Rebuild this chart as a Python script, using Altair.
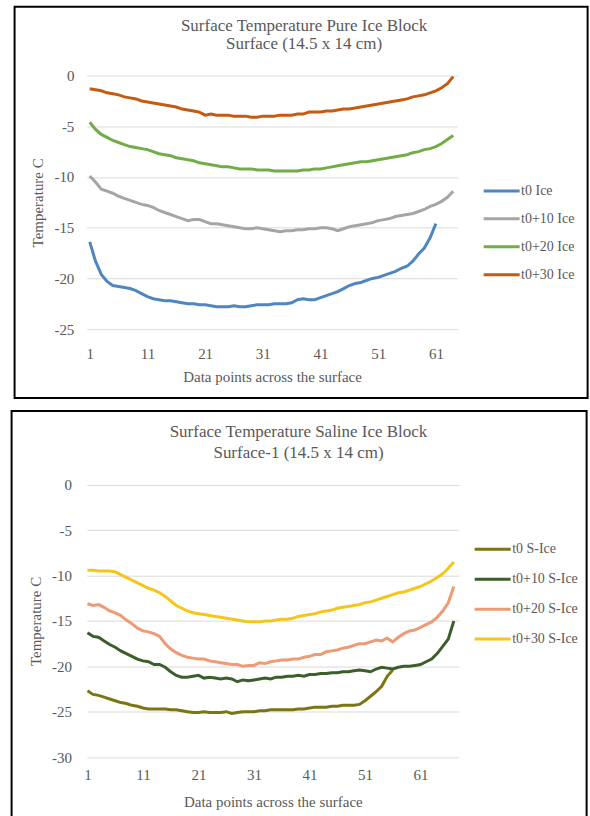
import altair as alt
import pandas as pd

# ---------------- text ----------------
top_title = ["Surface Temperature Pure Ice Block", "Surface (14.5 x 14 cm)"]
bot_title = ["Surface Temperature Saline Ice Block", "Surface-1 (14.5 x 14 cm)"]
x_title = "Data points across the surface"
y_title = "Temperature C"
x_ticks = [1, 11, 21, 31, 41, 51, 61]
top_y_ticks = [0, -5, -10, -15, -20, -25]
bot_y_ticks = [0, -5, -10, -15, -20, -25, -30]

# ---------------- pure ice block ----------------
top_names = ["t0 Ice", "t0+10 Ice", "t0+20 Ice", "t0+30 Ice"]
top_colors = ["#4F86C0", "#A5A5A5", "#70AD47", "#C55A11"]

t0_ice = [-16.4, -18.3, -19.6, -20.3, -20.7, -20.8, -20.9, -21.0, -21.2, -21.5,
          -21.8, -22.0, -22.1, -22.2, -22.2, -22.3, -22.4, -22.5, -22.5, -22.6,
          -22.6, -22.7, -22.8, -22.8, -22.8, -22.7, -22.8, -22.8, -22.7, -22.6,
          -22.6, -22.6, -22.5, -22.5, -22.5, -22.4, -22.1, -22.0, -22.1, -22.1,
          -21.9, -21.7, -21.5, -21.3, -21.0, -20.7, -20.5, -20.4, -20.2, -20.0,
          -19.9, -19.7, -19.5, -19.3, -19.0, -18.8, -18.3, -17.6, -17.0, -16.0,
          -14.6]
t10_ice = [-9.9, -10.5, -11.2, -11.4, -11.6, -11.9, -12.1, -12.3, -12.5, -12.7,
           -12.8, -13.0, -13.3, -13.5, -13.7, -13.9, -14.1, -14.3, -14.2, -14.2,
           -14.4, -14.6, -14.6, -14.7, -14.8, -14.9, -15.0, -15.1, -15.1, -15.0,
           -15.1, -15.2, -15.3, -15.4, -15.3, -15.3, -15.2, -15.2, -15.1, -15.1,
           -15.0, -15.0, -15.1, -15.3, -15.1, -14.9, -14.8, -14.7, -14.6, -14.5,
           -14.3, -14.2, -14.1, -13.9, -13.8, -13.7, -13.6, -13.4, -13.2, -12.9,
           -12.7, -12.4, -12.0, -11.4]
t20_ice = [-4.6, -5.3, -5.8, -6.1, -6.4, -6.6, -6.8, -7.0, -7.1, -7.2,
           -7.3, -7.5, -7.7, -7.8, -7.9, -8.1, -8.2, -8.3, -8.4, -8.6,
           -8.7, -8.8, -8.9, -9.0, -9.0, -9.1, -9.2, -9.2, -9.2, -9.3,
           -9.3, -9.3, -9.4, -9.4, -9.4, -9.4, -9.4, -9.3, -9.3, -9.2,
           -9.2, -9.1, -9.0, -8.9, -8.8, -8.7, -8.6, -8.5, -8.5, -8.4,
           -8.3, -8.2, -8.1, -8.0, -7.9, -7.8, -7.6, -7.5, -7.3, -7.2,
           -7.0, -6.7, -6.3, -5.9]
t30_ice = [-1.3, -1.4, -1.5, -1.7, -1.8, -1.9, -2.1, -2.2, -2.3, -2.5,
           -2.6, -2.7, -2.8, -2.9, -3.0, -3.1, -3.3, -3.4, -3.5, -3.6,
           -3.9, -3.8, -3.9, -3.9, -3.9, -4.0, -4.0, -4.0, -4.1, -4.1,
           -4.0, -4.0, -4.0, -3.9, -3.9, -3.9, -3.8, -3.8, -3.6, -3.6,
           -3.6, -3.5, -3.5, -3.4, -3.3, -3.3, -3.2, -3.1, -3.0, -2.9,
           -2.8, -2.7, -2.6, -2.5, -2.4, -2.3, -2.1, -2.0, -1.9, -1.7,
           -1.5, -1.2, -0.8, -0.1]

# ---------------- saline ice block ----------------
bot_names = ["t0 S-Ice", "t0+10 S-Ice", "t0+20 S-Ice", "t0+30 S-Ice"]
bot_colors = ["#7A7612", "#3B5E2B", "#EE9A74", "#F5C518"]

t0_sice = [-22.7, -23.1, -23.2, -23.4, -23.6, -23.8, -24.0, -24.1, -24.3, -24.4,
           -24.6, -24.7, -24.7, -24.7, -24.7, -24.8, -24.8, -24.9, -25.0, -25.1,
           -25.1, -25.0, -25.1, -25.1, -25.1, -25.0, -25.2, -25.1, -25.0, -25.0,
           -25.0, -24.9, -24.9, -24.8, -24.8, -24.8, -24.8, -24.8, -24.7, -24.7,
           -24.6, -24.5, -24.5, -24.5, -24.4, -24.4, -24.3, -24.3, -24.3, -24.2,
           -23.8, -23.3, -22.8, -22.2, -21.1, -20.4]
t10_sice = [-16.3, -16.7, -16.8, -17.2, -17.6, -17.9, -18.3, -18.6, -18.9, -19.2,
            -19.4, -19.5, -19.8, -19.8, -20.1, -20.6, -21.0, -21.2, -21.2, -21.1,
            -21.0, -21.3, -21.2, -21.3, -21.4, -21.3, -21.4, -21.7, -21.5, -21.6,
            -21.5, -21.4, -21.3, -21.4, -21.2, -21.2, -21.1, -21.1, -21.0, -21.1,
            -20.9, -20.9, -20.8, -20.8, -20.7, -20.7, -20.6, -20.6, -20.5, -20.4,
            -20.5, -20.6, -20.3, -20.1, -20.2, -20.3, -20.1, -20.0, -20.0, -19.9,
            -19.8, -19.5, -19.2, -18.6, -17.8, -17.0, -15.0]
t20_sice = [-13.1, -13.3, -13.2, -13.5, -13.9, -14.1, -14.4, -14.9, -15.3, -15.8,
            -16.1, -16.2, -16.4, -16.7, -17.5, -18.1, -18.5, -18.8, -19.0, -19.1,
            -19.2, -19.2, -19.4, -19.5, -19.6, -19.7, -19.8, -19.8, -20.0, -19.9,
            -19.9, -19.6, -19.7, -19.5, -19.4, -19.3, -19.3, -19.2, -19.2, -19.0,
            -18.9, -18.7, -18.7, -18.4, -18.3, -18.2, -18.0, -17.9, -17.7, -17.5,
            -17.5, -17.3, -17.1, -17.2, -16.9, -17.3, -16.8, -16.4, -16.1, -16.0,
            -15.7, -15.4, -15.1, -14.6, -13.9, -13.0, -11.2]
t30_sice = [-9.4, -9.4, -9.5, -9.5, -9.5, -9.6, -9.9, -10.2, -10.5, -10.8,
            -11.1, -11.4, -11.6, -11.9, -12.3, -12.8, -13.3, -13.6, -13.9, -14.1,
            -14.2, -14.3, -14.4, -14.5, -14.6, -14.7, -14.8, -14.9, -15.0, -15.1,
            -15.1, -15.1, -15.0, -15.0, -14.9, -14.8, -14.8, -14.7, -14.5, -14.4,
            -14.3, -14.2, -14.0, -13.9, -13.8, -13.6, -13.5, -13.4, -13.3, -13.2,
            -13.0, -12.9, -12.7, -12.5, -12.3, -12.1, -11.9, -11.8, -11.6, -11.4,
            -11.2, -10.9, -10.6, -10.2, -9.8, -9.2, -8.5]

FONT = "Liberation Serif"
TXT = "#595959"
MINUS_FIX = "replace(datum.label, '\u2212', '-')"


def long_table(names, series):
    rows = []
    for k, (name, vals) in enumerate(zip(names, series)):
        for i, v in enumerate(vals):
            rows.append({"series": name, "order": k, "point": i + 1, "temp": v})
    return pd.DataFrame(rows)


def panel(df, names, colors, title_lines, y_ticks, ymin, xdomain, w, h,
          frame_box, title_xy, legend_xy, x_lab_pad, x_tit_pad,
          y_lab_pad, y_tit_pad):
    lines = alt.Chart(df).mark_line(strokeWidth=3).encode(
        x=alt.X("point:Q",
                scale=alt.Scale(domain=xdomain, nice=False, zero=False),
                axis=alt.Axis(values=x_ticks, title=x_title, grid=False, domain=False,
                              ticks=False, labelPadding=x_lab_pad, titlePadding=x_tit_pad,
                              labelFont=FONT, labelFontSize=15, labelColor=TXT,
                              titleFont=FONT, titleFontSize=15, titleColor=TXT,
                              titleFontWeight="normal", labelFlush=False)),
        y=alt.Y("temp:Q",
                scale=alt.Scale(domain=[ymin, 0], nice=False, zero=False),
                axis=alt.Axis(values=y_ticks, title=y_title, grid=True, gridColor="#D9D9D9",
                              gridWidth=1, domain=False, ticks=False,
                              labelExpr=MINUS_FIX,
                              labelPadding=y_lab_pad, titlePadding=y_tit_pad,
                              labelFont=FONT, labelFontSize=15, labelColor=TXT,
                              titleFont=FONT, titleFontSize=15, titleColor=TXT,
                              titleFontWeight="normal")),
        color=alt.Color("series:N",
                        scale=alt.Scale(domain=names, range=colors),
                        legend=alt.Legend(orient="none", legendX=legend_xy[0],
                                          legendY=legend_xy[1], title=None,
                                          symbolType="M-1,0H1", symbolSize=1296,
                                          symbolStrokeWidth=3, rowPadding=legend_xy[2],
                                          labelFont=FONT, labelFontSize=14,
                                          labelColor=TXT, labelOffset=0)),
        order=alt.Order("point:Q"),
    )
    one = pd.DataFrame({"k": [0]})
    frame = alt.Chart(one).mark_rect(filled=False, color="black", strokeWidth=2).encode(
        x=alt.value(frame_box[0]), x2=alt.value(frame_box[1]),
        y=alt.value(frame_box[2]), y2=alt.value(frame_box[3]))
    title = alt.Chart(one).mark_text(font=FONT, fontSize=17, color=TXT,
                                     lineHeight=title_xy[2],
                                     align="center", baseline="top").encode(
        x=alt.value(title_xy[0]), y=alt.value(title_xy[1]), text=alt.value(title_lines))
    return alt.layer(frame, lines, title).properties(width=w, height=h)


top_df = long_table(top_names, [t0_ice, t10_ice, t20_ice, t30_ice])
bot_df = long_table(bot_names, [t0_sice, t10_sice, t20_sice, t30_sice])

top = panel(top_df, top_names, top_colors, top_title, top_y_ticks, -25, [0.5, 64.7],
            371, 254, (-72.4, 501.6, -69, 323), (217.6, -58, 18.5), (396, 96, 1),
            17, 8, 13, 8)
bot = panel(bot_df, bot_names, bot_colors, bot_title, bot_y_ticks, -30, [0.89, 67.9],
            372.6, 272.6, (-75.4, 500.6, -74, 345), (212, -60.5, 21), (387, 45, 3),
            11, 12, 15.4, 8)

chart = alt.concat(top, bot, columns=1, spacing=9).resolve_scale(
    color="independent", x="independent", y="independent"
).resolve_legend(color="independent").properties(
    padding={"left": 10, "top": 4, "right": 0, "bottom": 0}
).configure_view(stroke="transparent")

chart.save("out.html", embed_options={"renderer": "svg", "actions": False})
